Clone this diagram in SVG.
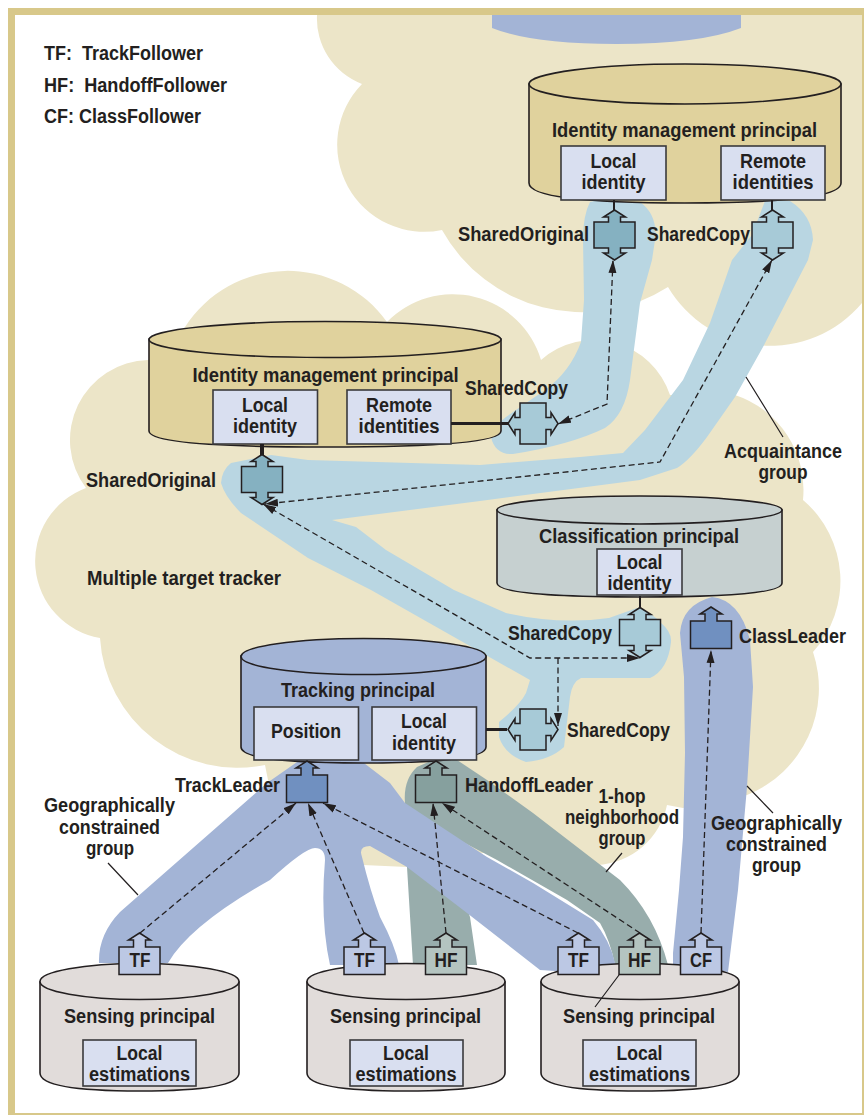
<svg xmlns="http://www.w3.org/2000/svg" width="864" height="1115" viewBox="0 0 864 1115">
<style>
text{font-family:"Liberation Sans",Arial,sans-serif;font-weight:700;font-size:20px;fill:#231f20;white-space:pre}
.m{text-anchor:middle}
.cyl{stroke:#231f20;stroke-width:1.6}
.box{fill:#d9dff0;stroke:#3a3a3c;stroke-width:1.6}
.sym{stroke:#231f20;stroke-width:1.5;stroke-linejoin:miter}
.dash{fill:none;stroke:#231f20;stroke-width:1.3;stroke-dasharray:6 3.5}
.thin{fill:none;stroke:#231f20;stroke-width:1.2}
</style>
<defs>
<marker id="ah" markerUnits="userSpaceOnUse" markerWidth="14" markerHeight="9" refX="13" refY="4.500" orient="auto-start-reverse"><path d="M0,0.500 L13,4.500 L0,8.500 Z" fill="#231f20"/></marker>
<polygon id="dbl" points="0,-25 11,-18 6,-18 6,-13 20.5,-13 20.5,13 6,13 6,18 11,18 0,25 -11,18 -6,18 -6,13 -20.5,13 -20.5,-13 -6,-13 -6,-18 -11,-18"/>
<polygon id="up" points="0,-14 11,-7 6,-7 6,0 20.5,0 20.5,27.5 -20.5,27.5 -20.5,0 -6,0 -6,-7 -11,-7"/>
</defs>
<rect width="864" height="1115" fill="#fff"/>
<g id="clouds" fill="#ece5c8">
<path d="M317,15 A70,70 0 0 0 362,84 A87,87 0 0 0 442,230 A160,160 0 0 0 668,287 A119,119 0 0 0 862,303 V15 Z"/>
<path d="M86,488 A80,80 0 0 1 148,360 L185,327 A122,122 0 0 1 387,322 A92,92 0 0 1 541,360 A80,80 0 0 1 670,395 L735,395 A100,100 0 0 1 803,500 A106,106 0 0 1 813,652 A115,115 0 0 1 747,795 L683,808 L667,805 A75,75 0 0 1 597,865 L500,850 L407,867 L363,865 L300,820 L268,780 L265,765 A138,138 0 0 1 100,638 A78,78 0 0 1 86,488 Z"/>
</g>
<path id="top-sliver" d="M492,15 H741 V28 Q700,44 616,44 Q532,44 492,28 Z" fill="#a3b4d6"/>
<g id="bands">
<path fill="#b9d6e2" d="M590,202 Q614,195 640,202 Q658,215 655,240 L652,260 L640,303 L630,380 Q625,415 605,428 Q570,445 513,454 Q495,455 491,437 Q495,425 506,417 L545,390 Q570,372 581,342 L584,300 L583,240 Q583,215 590,202 Z"/>
<path fill="#b9d6e2" d="M765,201 L790,201 Q812,215 813,240 L808,260 L763,347 L735,397 L707,437 Q690,460 677,468 L640,480 L480,501 L332,520 L356,527 L386,550 L454,590 L506,613 Q560,625 609,618 L637,608 Q655,615 660,622 Q672,632 671,642 Q668,670 650,678 L581,678 Q572,682 570,697 L564,747 Q550,760 526,762 Q505,755 499,737 L499,722 Q520,705 526,693 L530,680 L371,590 L308,558 L241,513 Q225,497 221,483 Q222,470 231,463 L271,455 L308,460 L480,465 L580,457 L623,453 L645,430 L683,380 L710,323 L732,260 L752,235 Z"/>
<path fill="#98adac" d="M433,760 L457,760 L487,780 L533,813 L620,880 Q655,915 668,965 L615,965 Q610,940 600,923 L567,900 L497,860 L440,830 L470,917 L477,965 L413,965 L407,867 L405,803 Q403,780 417,767 Z"/>
<path fill="#a3b4d6" d="M300,760 L360,760 L390,783 L405,803 L487,857 L533,883 L593,920 Q610,940 615,963 L615,975 L540,970 L467,913 L407,867 L370,846 Q358,846 362,857 Q370,890 380,917 Q395,945 399,965 L330,965 Q320,920 325,860 Q325,848 315,848 Q305,848 270,880 Q190,925 168,963 L99,963 Q98,935 120,912 L267,783 Z"/>
<path fill="#a3b4d6" d="M712,597 Q740,600 750,640 L753,687 L747,787 L738,890 L728,972 L673,965 L673,953 L679,890 L683,837 L685,753 L684,677 L680,633 Q682,605 712,597 Z"/>
</g>
<g id="frame">
<rect x="8" y="8" width="856" height="7" fill="#d8c88a"/>
<rect x="8" y="8" width="7" height="1107" fill="#d8c88a"/>
<rect x="862" y="8" width="2" height="1107" fill="#d8c88a"/>
<rect x="8" y="1113" width="856" height="2" fill="#d8c88a"/>
</g>
<g id="legend">
<text x="44" y="60" textLength="159" lengthAdjust="spacingAndGlyphs">TF:  TrackFollower</text>
<text x="44" y="92" textLength="183" lengthAdjust="spacingAndGlyphs">HF:  HandoffFollower</text>
<text x="44" y="123" textLength="157" lengthAdjust="spacingAndGlyphs">CF: ClassFollower</text>
</g>
<g id="identity-top">
<path class="cyl" fill="#e0d29d" d="M529,84 V183 Q529,203 685,203 Q841,203 841,183 V84 Z"/>
<ellipse class="cyl" cx="685" cy="84" rx="156" ry="20" fill="#e0d29d"/>
<text class="m" x="684.500" y="137" textLength="265" lengthAdjust="spacingAndGlyphs">Identity management principal</text>
<rect class="box" x="561" y="146" width="105" height="54"/>
<text class="m" x="613.500" y="168" textLength="46" lengthAdjust="spacingAndGlyphs">Local</text>
<text class="m" x="613.500" y="189" textLength="64" lengthAdjust="spacingAndGlyphs">identity</text>
<rect class="box" x="721" y="146" width="104" height="54"/>
<text class="m" x="773" y="168" textLength="66" lengthAdjust="spacingAndGlyphs">Remote</text>
<text class="m" x="773" y="189" textLength="81" lengthAdjust="spacingAndGlyphs">identities</text>
</g>
<g id="identity-mid">
<path class="cyl" fill="#e0d29d" d="M149,339 V431 Q149,447 325,447 Q501,447 501,431 V339 Z"/>
<ellipse class="cyl" cx="325" cy="339.500" rx="176" ry="18" fill="#e0d29d"/>
<text x="192.500" y="382" textLength="266" lengthAdjust="spacingAndGlyphs">Identity management principal</text>
<rect class="box" x="213" y="390" width="104.500" height="54"/>
<text class="m" x="265" y="412" textLength="46" lengthAdjust="spacingAndGlyphs">Local</text>
<text class="m" x="265" y="433" textLength="64" lengthAdjust="spacingAndGlyphs">identity</text>
<rect class="box" x="347" y="390" width="104" height="54"/>
<text class="m" x="399" y="412" textLength="66" lengthAdjust="spacingAndGlyphs">Remote</text>
<text class="m" x="399" y="433" textLength="81" lengthAdjust="spacingAndGlyphs">identities</text>
</g>
<g id="classification">
<path class="cyl" fill="#c6d0d0" d="M497,510 V583 Q497,597 640,597 Q782,597 782,583 V510 Z"/>
<ellipse class="cyl" cx="639.500" cy="510" rx="142.500" ry="14" fill="#c6d0d0"/>
<text x="539" y="543" textLength="200" lengthAdjust="spacingAndGlyphs">Classification principal</text>
<rect class="box" x="597" y="549" width="85" height="46"/>
<text class="m" x="639.500" y="569" textLength="46" lengthAdjust="spacingAndGlyphs">Local</text>
<text class="m" x="639.500" y="590" textLength="64" lengthAdjust="spacingAndGlyphs">identity</text>
</g>
<g id="tracking">
<path class="cyl" fill="#a3b4d6" d="M241,656 V747 Q241,763 363,763 Q486,763 486,747 V656 Z"/>
<ellipse class="cyl" cx="363.500" cy="656.500" rx="122.500" ry="18" fill="#a3b4d6"/>
<text x="281" y="697" textLength="154" lengthAdjust="spacingAndGlyphs">Tracking principal</text>
<rect class="box" x="254" y="707" width="104.500" height="53"/>
<text class="m" x="306" y="738" textLength="70" lengthAdjust="spacingAndGlyphs">Position</text>
<rect class="box" x="372" y="707" width="104.500" height="53"/>
<text class="m" x="424" y="728" textLength="46" lengthAdjust="spacingAndGlyphs">Local</text>
<text class="m" x="424" y="750" textLength="64" lengthAdjust="spacingAndGlyphs">identity</text>
</g>
<g id="sensing-1">
<path class="cyl" fill="#e1dcda" d="M40,982 V1073 Q40,1091 139.500,1091 Q239,1091 239,1073 V982 Z"/>
<ellipse class="cyl" cx="139.500" cy="981.500" rx="99.500" ry="18" fill="#e1dcda"/>
<text x="64" y="1023" textLength="151" lengthAdjust="spacingAndGlyphs">Sensing principal</text>
<rect class="box" x="83" y="1040" width="113" height="46"/>
<text class="m" x="139.500" y="1060" textLength="46" lengthAdjust="spacingAndGlyphs">Local</text>
<text class="m" x="139.500" y="1081" textLength="101" lengthAdjust="spacingAndGlyphs">estimations</text>
</g>
<g id="sensing-2">
<path class="cyl" fill="#e1dcda" d="M307,982 V1073 Q307,1091 406,1091 Q505,1091 505,1073 V982 Z"/>
<ellipse class="cyl" cx="406" cy="981.500" rx="99" ry="18" fill="#e1dcda"/>
<text x="330" y="1023" textLength="151" lengthAdjust="spacingAndGlyphs">Sensing principal</text>
<rect class="box" x="350" y="1040" width="113" height="46"/>
<text class="m" x="406" y="1060" textLength="46" lengthAdjust="spacingAndGlyphs">Local</text>
<text class="m" x="406" y="1081" textLength="101" lengthAdjust="spacingAndGlyphs">estimations</text>
</g>
<g id="sensing-3">
<path class="cyl" fill="#e1dcda" d="M541,982 V1073 Q541,1091 640,1091 Q739,1091 739,1073 V982 Z"/>
<ellipse class="cyl" cx="640" cy="981.500" rx="99" ry="18" fill="#e1dcda"/>
<text x="563" y="1023" textLength="152" lengthAdjust="spacingAndGlyphs">Sensing principal</text>
<rect class="box" x="583" y="1040" width="113" height="46"/>
<text class="m" x="639.500" y="1060" textLength="46" lengthAdjust="spacingAndGlyphs">Local</text>
<text class="m" x="639.500" y="1081" textLength="101" lengthAdjust="spacingAndGlyphs">estimations</text>
</g>
<g id="connectors">
<path fill="none" stroke="#231f20" stroke-width="2" d="M614,200 V210 M772,200 V210 M640,596 V607"/>
<path fill="none" stroke="#231f20" stroke-width="3" d="M451,423.500 H508 M486,729.500 H507"/>
<path fill="none" stroke="#231f20" stroke-width="4" d="M262,444 V455"/>
</g>
<g id="nodes-shared">
<g id="shared-original-top"><use href="#dbl" x="614.500" y="235" fill="#85b1c1" class="sym"/><text x="458" y="241" textLength="131" lengthAdjust="spacingAndGlyphs">SharedOriginal</text></g>
<g id="shared-copy-top"><use href="#dbl" x="772.500" y="235" fill="#a7cad7" class="sym"/><text x="647" y="241" textLength="103" lengthAdjust="spacingAndGlyphs">SharedCopy</text></g>
<g id="shared-copy-mid"><use href="#dbl" transform="translate(533,423.500) rotate(90)" fill="#a7cad7" class="sym"/><text x="465" y="395" textLength="103" lengthAdjust="spacingAndGlyphs">SharedCopy</text></g>
<g id="shared-original-mid"><use href="#dbl" x="262" y="479.500" fill="#85b1c1" class="sym"/><text x="86" y="487" textLength="130" lengthAdjust="spacingAndGlyphs">SharedOriginal</text></g>
<g id="shared-copy-class"><use href="#dbl" x="640" y="632.500" fill="#a7cad7" class="sym"/><text x="508" y="640" textLength="104" lengthAdjust="spacingAndGlyphs">SharedCopy</text></g>
<g id="shared-copy-track"><use href="#dbl" transform="translate(533,729.500) rotate(90)" fill="#a7cad7" class="sym"/><text x="567" y="737" textLength="103" lengthAdjust="spacingAndGlyphs">SharedCopy</text></g>
<g id="class-leader"><use href="#up" x="711" y="621" fill="#7090c0" class="sym"/><text x="739" y="643" textLength="107" lengthAdjust="spacingAndGlyphs">ClassLeader</text></g>
<g id="track-leader"><use href="#up" x="307" y="775" fill="#7090c0" class="sym"/><text x="175" y="792" textLength="105" lengthAdjust="spacingAndGlyphs">TrackLeader</text></g>
<g id="handoff-leader"><use href="#up" x="436" y="775" fill="#86a09e" class="sym"/><text x="465" y="792" textLength="128" lengthAdjust="spacingAndGlyphs">HandoffLeader</text></g>
<g id="tf-1"><use href="#up" x="139.500" y="947" fill="#bcc8e4" class="sym"/><text class="m" x="140" y="967" textLength="21" lengthAdjust="spacingAndGlyphs">TF</text></g>
<g id="tf-2"><use href="#up" x="364.500" y="947" fill="#bcc8e4" class="sym"/><text class="m" x="364.500" y="967" textLength="21" lengthAdjust="spacingAndGlyphs">TF</text></g>
<g id="hf-2"><use href="#up" x="446" y="947" fill="#b4c4c0" class="sym"/><text class="m" x="446" y="967" textLength="23" lengthAdjust="spacingAndGlyphs">HF</text></g>
<g id="tf-3"><use href="#up" x="578.500" y="947" fill="#bcc8e4" class="sym"/><text class="m" x="578.500" y="967" textLength="21" lengthAdjust="spacingAndGlyphs">TF</text></g>
<g id="hf-3"><use href="#up" x="639.500" y="947" fill="#b4c4c0" class="sym"/><text class="m" x="639.500" y="967" textLength="23" lengthAdjust="spacingAndGlyphs">HF</text></g>
<g id="cf-3"><use href="#up" x="701" y="947" fill="#bcc8e4" class="sym"/><text class="m" x="701" y="967" textLength="22" lengthAdjust="spacingAndGlyphs">CF</text></g>
</g>
<g id="dashed-connectors">
<polyline class="dash" points="558,424 607,404 613,260" marker-start="url(#ah)" marker-end="url(#ah)"/>
<polyline class="dash" points="772,260 660,462 265,504" marker-start="url(#ah)" marker-end="url(#ah)"/>
<polyline class="dash" points="263,504 530,658 640,658" marker-start="url(#ah)" marker-end="url(#ah)"/>
<polyline class="dash" points="558,658 558,726" marker-end="url(#ah)"/>
<polyline class="dash" points="140,933 296,803" marker-end="url(#ah)"/>
<polyline class="dash" points="364,933 308,803" marker-end="url(#ah)"/>
<polyline class="dash" points="578,933 323,803" marker-end="url(#ah)"/>
<polyline class="dash" points="446,933 433,803" marker-end="url(#ah)"/>
<polyline class="dash" points="640,933 442,803" marker-end="url(#ah)"/>
<polyline class="dash" points="701,933 711,650" marker-end="url(#ah)"/>
</g>
<g id="annotations">
<path class="thin" d="M746,377 L783,437 M108,863 L138,895 M622,853 L606,872 M747,786 L773,813 M619,975 L595,1007"/>
<text x="87" y="585" textLength="194" lengthAdjust="spacingAndGlyphs">Multiple target tracker</text>
<text class="m" x="783" y="458" textLength="118" lengthAdjust="spacingAndGlyphs">Acquaintance</text>
<text class="m" x="783" y="479" textLength="49" lengthAdjust="spacingAndGlyphs">group</text>
<text class="m" x="622" y="803" textLength="47" lengthAdjust="spacingAndGlyphs">1-hop</text>
<text class="m" x="622" y="824" textLength="114" lengthAdjust="spacingAndGlyphs">neighborhood</text>
<text class="m" x="622" y="845" textLength="47" lengthAdjust="spacingAndGlyphs">group</text>
<text class="m" x="109.500" y="812" textLength="131" lengthAdjust="spacingAndGlyphs">Geographically</text>
<text class="m" x="109.500" y="834" textLength="101" lengthAdjust="spacingAndGlyphs">constrained</text>
<text class="m" x="110" y="855" textLength="48" lengthAdjust="spacingAndGlyphs">group</text>
<text class="m" x="776.500" y="830" textLength="131" lengthAdjust="spacingAndGlyphs">Geographically</text>
<text class="m" x="776.500" y="851" textLength="101" lengthAdjust="spacingAndGlyphs">constrained</text>
<text class="m" x="776.500" y="872" textLength="49" lengthAdjust="spacingAndGlyphs">group</text>
</g>
</svg>
